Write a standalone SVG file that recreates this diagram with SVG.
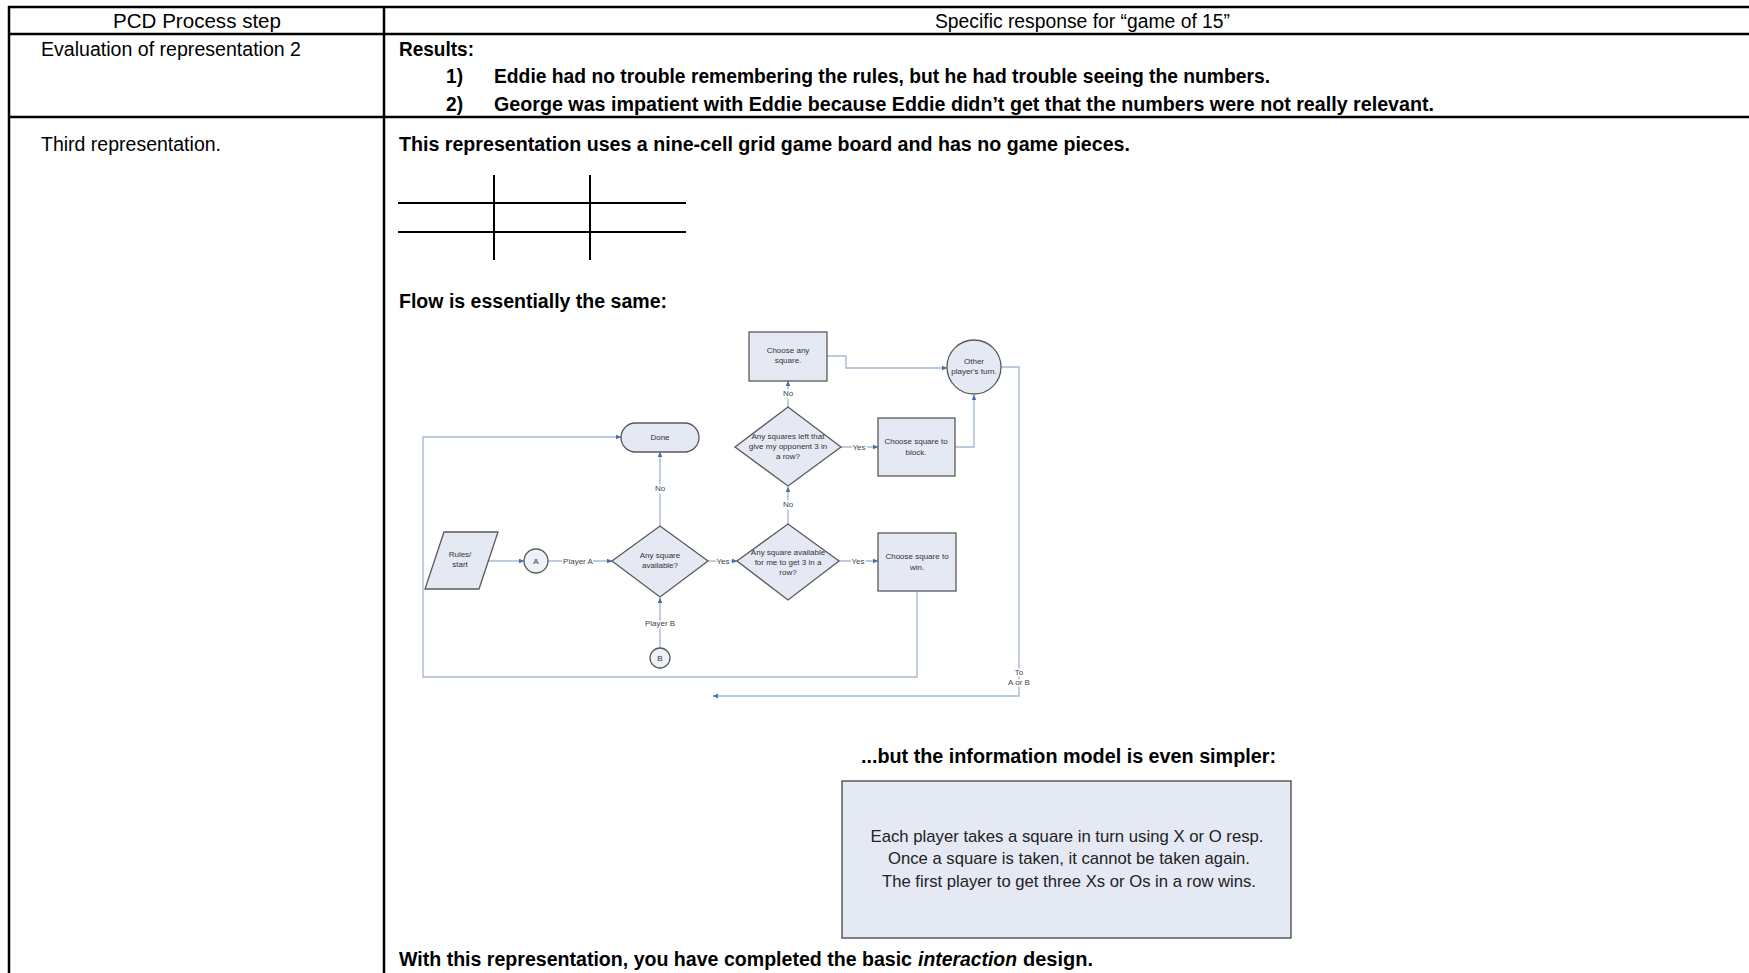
<svg xmlns="http://www.w3.org/2000/svg" width="1749" height="973" viewBox="0 0 1749 973">
<style>
.t{font-family:"Liberation Sans Narrow","Liberation Sans",Arial,sans-serif;font-size:20px;fill:#000}
.b{font-weight:bold}
.i{font-style:italic}
.tl{stroke:#000;stroke-width:2.5;fill:none}
.g{stroke:#000;stroke-width:2;fill:none}
.fs{fill:#e5e9f4;stroke:#5a5a5a;stroke-width:1.3}
.fc{font-family:"Liberation Sans",Arial,sans-serif;font-size:8px;fill:#333;text-anchor:middle}
.lb{font-family:"Liberation Sans",Arial,sans-serif;font-size:8px;fill:#444;text-anchor:middle;stroke:#fff;stroke-width:3;paint-order:stroke}
.cn{stroke:#a7b9d6;stroke-width:1.4;fill:none}
.ia{font-family:"Liberation Sans",Arial,sans-serif;font-size:17px;fill:#222;text-anchor:middle}
</style>
<defs>
<marker id="ah" viewBox="0 0 10 10" refX="9" refY="5" markerWidth="6" markerHeight="6" orient="auto" markerUnits="userSpaceOnUse">
<path d="M0,1 L10,5 L0,9 z" fill="#4a6fb0"/>
</marker>
</defs>
<rect width="1749" height="973" fill="#fff"/>
<g id="table">
<line class="tl" x1="8" y1="7" x2="1749" y2="7"/>
<line class="tl" x1="8" y1="34" x2="1749" y2="34"/>
<line class="tl" x1="8" y1="117" x2="1749" y2="117"/>
<line class="tl" x1="9" y1="6" x2="9" y2="973"/>
<line class="tl" x1="384" y1="6" x2="384" y2="973"/>
</g>
<g id="header">
<text class="t" x="113" y="28" textLength="168" lengthAdjust="spacingAndGlyphs">PCD Process step</text>
<text class="t" x="935" y="28" textLength="295" lengthAdjust="spacingAndGlyphs">Specific response for “game of 15”</text>
</g>
<g id="row-eval">
<text class="t" x="41" y="56" textLength="260" lengthAdjust="spacingAndGlyphs">Evaluation of representation 2</text>
<text class="t b" x="399" y="56" textLength="75" lengthAdjust="spacingAndGlyphs">Results:</text>
<text class="t b" x="446" y="83" textLength="17" lengthAdjust="spacingAndGlyphs">1)</text>
<text class="t b" x="494" y="83" textLength="776" lengthAdjust="spacingAndGlyphs">Eddie had no trouble remembering the rules, but he had trouble seeing the numbers.</text>
<text class="t b" x="446" y="111" textLength="17" lengthAdjust="spacingAndGlyphs">2)</text>
<text class="t b" x="494" y="111" textLength="940" lengthAdjust="spacingAndGlyphs">George was impatient with Eddie because Eddie didn’t get that the numbers were not really relevant.</text>
</g>
<g id="row-third">
<text class="t" x="41" y="151" textLength="180" lengthAdjust="spacingAndGlyphs">Third representation.</text>
<text class="t b" x="399" y="151" textLength="731" lengthAdjust="spacingAndGlyphs">This representation uses a nine-cell grid game board and has no game pieces.</text>
<text class="t b" x="399" y="308" textLength="268" lengthAdjust="spacingAndGlyphs">Flow is essentially the same:</text>
<text class="t b" x="861" y="763" textLength="415" lengthAdjust="spacingAndGlyphs">...but the information model is even simpler:</text>
<text class="t b" x="399" y="966" textLength="513" lengthAdjust="spacingAndGlyphs">With this representation, you have completed the basic</text>
<text class="t b i" x="918" y="966" textLength="99" lengthAdjust="spacingAndGlyphs">interaction</text>
<text class="t b" x="1023" y="966" textLength="70" lengthAdjust="spacingAndGlyphs">design.</text>
</g>
<g id="grid-board">
<line class="g" x1="398" y1="203" x2="686" y2="203"/>
<line class="g" x1="398" y1="232" x2="686" y2="232"/>
<line class="g" x1="494" y1="175" x2="494" y2="260"/>
<line class="g" x1="590" y1="175" x2="590" y2="260"/>
</g>
<g id="connectors">
<line class="cn" x1="488" y1="561" x2="524" y2="561" marker-end="url(#ah)"/>
<line class="cn" x1="548" y1="561" x2="612" y2="561" marker-end="url(#ah)"/>
<line class="cn" x1="708" y1="561" x2="737" y2="561" marker-end="url(#ah)"/>
<line class="cn" x1="839" y1="561" x2="878" y2="561" marker-end="url(#ah)"/>
<line class="cn" x1="660" y1="648" x2="660" y2="598" marker-end="url(#ah)"/>
<line class="cn" x1="660" y1="526" x2="660" y2="452" marker-end="url(#ah)"/>
<line class="cn" x1="788" y1="524" x2="788" y2="487" marker-end="url(#ah)"/>
<line class="cn" x1="788" y1="407" x2="788" y2="381" marker-end="url(#ah)"/>
<line class="cn" x1="841" y1="447" x2="878" y2="447" marker-end="url(#ah)"/>
<polyline class="cn" points="827,356 846,356 846,368 947,368" marker-end="url(#ah)"/>
<polyline class="cn" points="955,447 974,447 974,395" marker-end="url(#ah)"/>
<polyline class="cn" points="1001,367 1019,367 1019,696 713,696" marker-end="url(#ah)"/>
<polyline class="cn" points="917,591 917,677 423,677 423,437 621,437" marker-end="url(#ah)"/>
</g>
<g id="edge-labels">
<text class="lb" x="578" y="564">Player A</text>
<text class="lb" x="723" y="564">Yes</text>
<text class="lb" x="858" y="564">Yes</text>
<text class="lb" x="660" y="626">Player B</text>
<text class="lb" x="660" y="491">No</text>
<text class="lb" x="788" y="507">No</text>
<text class="lb" x="788" y="396">No</text>
<text class="lb" x="859" y="450">Yes</text>
<text class="lb" x="1019" y="675">To</text>
<text class="lb" x="1019" y="685">A or B</text>
</g>
<g id="node-rules">
<polygon class="fs" points="444,532 498,532 479,589 425,589"/>
<text class="fc" x="460" y="557">Rules/</text>
<text class="fc" x="460" y="567">start</text>
</g>
<g id="node-a">
<circle cx="536" cy="561" r="12" fill="#eef1f8" stroke="#5a5a5a" stroke-width="1.3"/>
<text class="fc" x="536" y="564">A</text>
</g>
<g id="node-b">
<circle cx="660" cy="658" r="10" fill="#eef1f8" stroke="#5a5a5a" stroke-width="1.3"/>
<text class="fc" x="660" y="661">B</text>
</g>
<g id="node-any-square">
<polygon class="fs" points="660,526 708,561 660,597 612,561"/>
<text class="fc" x="660" y="558">Any square</text>
<text class="fc" x="660" y="568">available?</text>
</g>
<g id="node-done">
<rect class="fs" x="621" y="423" width="78" height="29" rx="14.5"/>
<text class="fc" x="660" y="440">Done</text>
</g>
<g id="node-win-check">
<polygon class="fs" points="788,524 839,561 788,600 737,561"/>
<text class="fc" x="788" y="555">Any square available</text>
<text class="fc" x="788" y="565">for me to get 3 in a</text>
<text class="fc" x="788" y="575">row?</text>
</g>
<g id="node-win">
<rect class="fs" x="878" y="533" width="78" height="58"/>
<text class="fc" x="917" y="559">Choose square to</text>
<text class="fc" x="917" y="570">win.</text>
</g>
<g id="node-block-check">
<polygon class="fs" points="788,407 841,447 788,486 735,447"/>
<text class="fc" x="788" y="439">Any squares left that</text>
<text class="fc" x="788" y="449">give my opponent 3 in</text>
<text class="fc" x="788" y="459">a row?</text>
</g>
<g id="node-block">
<rect class="fs" x="878" y="418" width="77" height="58"/>
<text class="fc" x="916" y="444">Choose square to</text>
<text class="fc" x="916" y="455">block.</text>
</g>
<g id="node-choose-any">
<rect class="fs" x="749" y="332" width="78" height="49"/>
<text class="fc" x="788" y="353">Choose any</text>
<text class="fc" x="788" y="363">square.</text>
</g>
<g id="node-other">
<circle class="fs" cx="974" cy="367" r="27"/>
<text class="fc" x="974" y="364">Other</text>
<text class="fc" x="974" y="374">player's turn.</text>
</g>
<g id="info-model">
<rect x="842" y="781" width="449" height="157" fill="#e4e9f4" stroke="#444" stroke-width="1.3"/>
<text class="ia" x="1067" y="842" textLength="393" lengthAdjust="spacingAndGlyphs">Each player takes a square in turn using X or O resp.</text>
<text class="ia" x="1069" y="864" textLength="362" lengthAdjust="spacingAndGlyphs">Once a square is taken, it cannot be taken again.</text>
<text class="ia" x="1069" y="887" textLength="374" lengthAdjust="spacingAndGlyphs">The first player to get three Xs or Os in a row wins.</text>
</g>
</svg>
